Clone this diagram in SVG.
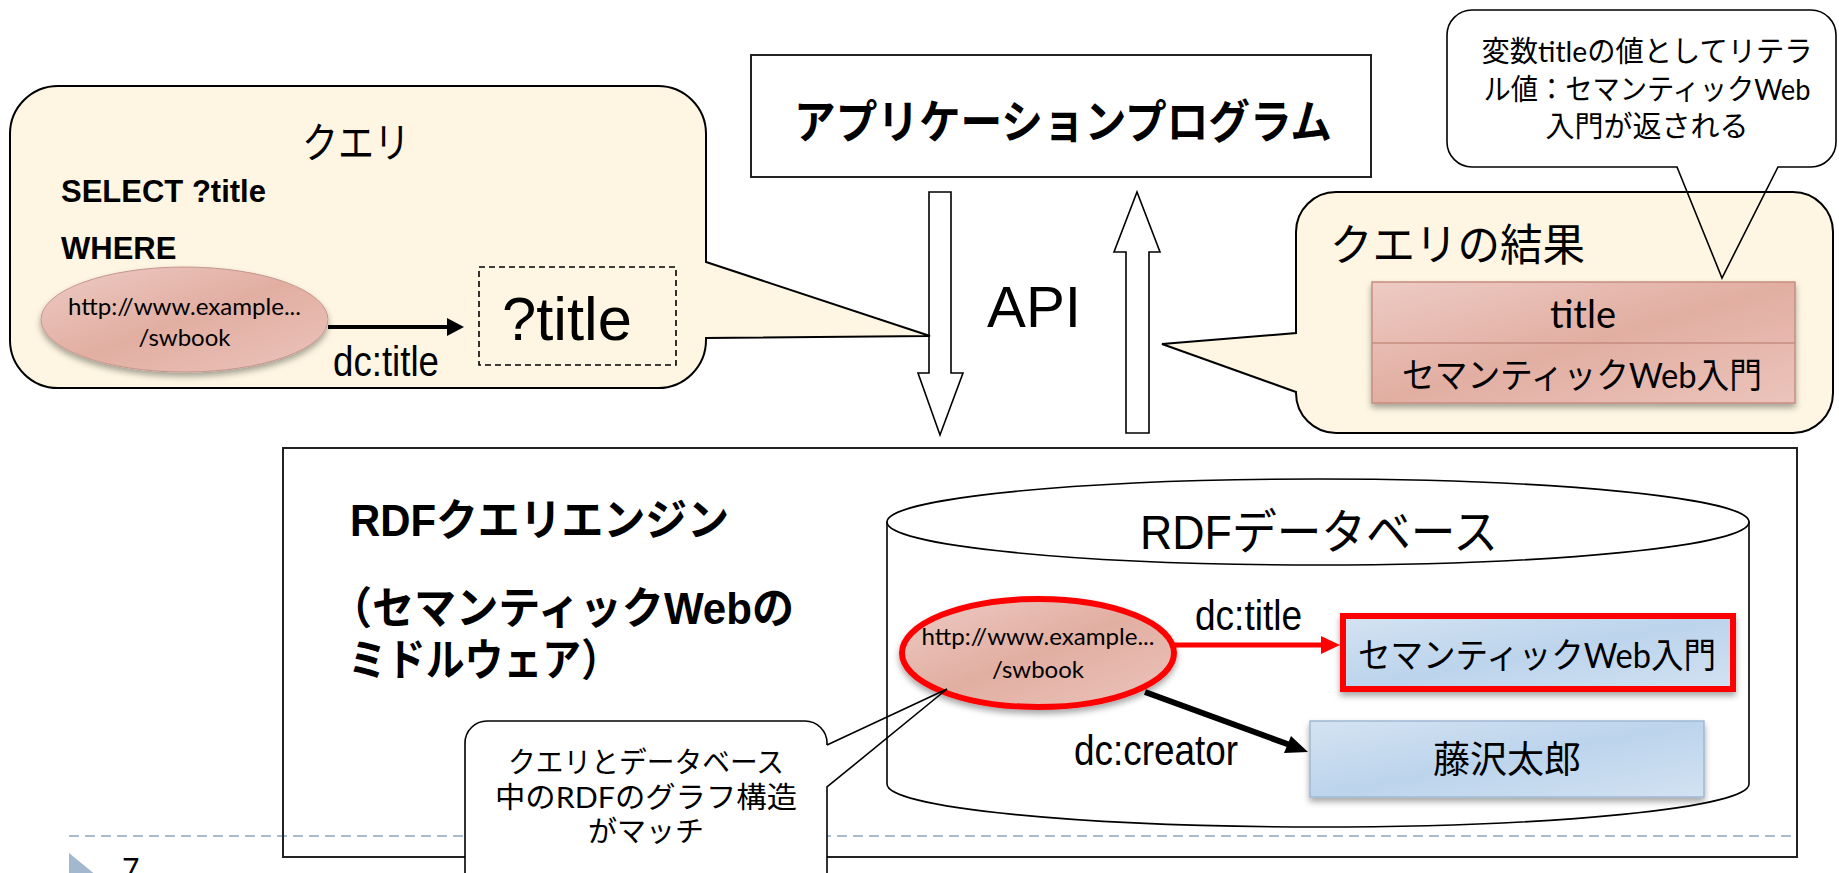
<svg xmlns="http://www.w3.org/2000/svg" width="1839" height="873" viewBox="0 0 1839 873">
  <defs>
    <style>
      .gs { font-family: Lato, "Noto Sans CJK JP", sans-serif; fill: #000; }
      .hv { font-family: "Liberation Sans", "Noto Sans CJK JP", sans-serif; fill: #000; }
      .hvb { font-family: "Liberation Sans", "Noto Sans CJK JP", sans-serif; font-weight: bold; fill: #000; }
      .bubble { fill: #fef6e2; stroke: #000; stroke-width: 2; }
      .line { fill: none; stroke: #000; stroke-width: 1.6; }
      .box { fill: #fff; stroke: #222; stroke-width: 2; }
      .blockarrow { fill: #fff; stroke: #000; stroke-width: 1.6; }
    </style>
    <linearGradient id="pink" x1="0" y1="0" x2="1" y2="1">
      <stop offset="0" stop-color="#edcbc4"/>
      <stop offset="0.5" stop-color="#e2aea2"/>
      <stop offset="1" stop-color="#ebc4bb"/>
    </linearGradient>
    <linearGradient id="blue" x1="0" y1="0" x2="1" y2="1">
      <stop offset="0" stop-color="#d4e3f2"/>
      <stop offset="0.5" stop-color="#bcd4ec"/>
      <stop offset="1" stop-color="#d2e2f2"/>
    </linearGradient>
    <filter id="shadow" x="-10%" y="-10%" width="120%" height="130%">
      <feDropShadow dx="0" dy="4" stdDeviation="3" flood-color="#000" flood-opacity="0.35"/>
    </filter>
  </defs>

  <!-- slide footer -->
  <g id="footer">
    <line x1="69" y1="836" x2="1797" y2="836" stroke="#a7bcd3" stroke-width="2" stroke-dasharray="10 6"/>
    <polygon points="69,853 108,885 69,917" fill="#a3b8cf"/>
    <text class="gs" x="122" y="880" font-size="30">7</text>
  </g>

  <!-- API block arrows -->
  <g id="connectors">
    <polygon class="blockarrow" points="929,192 951,192 951,373 963,373 940,435 918,373 929,373"/>
    <polygon class="blockarrow" points="1126,433 1149,433 1149,252 1160,252 1137,192 1114,252 1126,252"/>
    <text class="hv" x="987" y="327" font-size="58" textLength="94" lengthAdjust="spacingAndGlyphs">API</text>
  </g>

  <!-- application program -->
  <g id="app">
    <rect class="box" x="751" y="55" width="620" height="122"/>
    <text class="hvb" x="794" y="138" font-size="46" textLength="538" lengthAdjust="spacingAndGlyphs">アプリケーションプログラム</text>
  </g>

  <!-- query bubble -->
  <g id="query">
    <path class="bubble" d="M58,86 H658 A48,48 0 0 1 706,134 V262 L930,336 L706,338 V340 A48,48 0 0 1 658,388 H58 A48,48 0 0 1 10,340 V134 A48,48 0 0 1 58,86 Z"/>
    <text class="gs" x="302" y="158" font-size="42" textLength="108" lengthAdjust="spacingAndGlyphs">クエリ</text>
    <text class="hvb" x="61" y="202" font-size="31">SELECT ?title</text>
    <text class="hvb" x="61" y="259" font-size="31">WHERE</text>
    <ellipse cx="184.5" cy="319.5" rx="143.5" ry="52.5" fill="url(#pink)" stroke="#c4968c" stroke-width="1" filter="url(#shadow)"/>
    <text class="gs" x="184.5" y="315" font-size="23" text-anchor="middle" textLength="233" lengthAdjust="spacingAndGlyphs">http://www.example...</text>
    <text class="gs" x="184.5" y="346" font-size="24" text-anchor="middle">/swbook</text>
    <line x1="328" y1="327" x2="449" y2="327" stroke="#000" stroke-width="4"/>
    <polygon points="447,318 464,327 447,336" fill="#000"/>
    <text class="hv" x="333" y="376" font-size="42" textLength="106" lengthAdjust="spacingAndGlyphs">dc:title</text>
    <rect x="479" y="267" width="197" height="98" fill="none" stroke="#000" stroke-width="1.6" stroke-dasharray="6 4"/>
    <text class="hv" x="502" y="340" font-size="61" textLength="130" lengthAdjust="spacingAndGlyphs">?title</text>
  </g>

  <!-- query result bubble -->
  <g id="result">
    <path class="bubble" d="M1336,192 H1793 A40,40 0 0 1 1833,232 V393 A40,40 0 0 1 1793,433 H1336 A40,40 0 0 1 1296,393 V392 L1162,344 L1296,333 V232 A40,40 0 0 1 1336,192 Z"/>
    <text class="gs" x="1330" y="261" font-size="44" textLength="255" lengthAdjust="spacingAndGlyphs">クエリの結果</text>
    <g filter="url(#shadow)">
      <rect x="1372" y="282" width="423" height="121" fill="url(#pink)" stroke="#c68d80" stroke-width="1.5"/>
    </g>
    <line x1="1372" y1="343" x2="1795" y2="343" stroke="#c68d80" stroke-width="1.5"/>
    <text class="gs" x="1583" y="328" font-size="38" text-anchor="middle">title</text>
    <text class="gs" x="1402" y="388" font-size="35" textLength="360" lengthAdjust="spacingAndGlyphs">セマンティックWeb入門</text>
  </g>

  <!-- note on the returned value -->
  <g id="note-result">
    <rect x="1447" y="10" width="389" height="157" rx="25" ry="25" fill="#fff"/>
    <path class="line" d="M1778,167 H1811 A25,25 0 0 0 1836,142 V35 A25,25 0 0 0 1811,10 H1472 A25,25 0 0 0 1447,35 V142 A25,25 0 0 0 1472,167 H1677 L1722,278 Z" stroke-linejoin="miter"/>
    <text class="gs" x="1647" y="62" font-size="29" text-anchor="middle" textLength="331" lengthAdjust="spacingAndGlyphs">変数titleの値としてリテラ</text>
    <text class="gs" x="1647" y="100" font-size="29" text-anchor="middle" textLength="327" lengthAdjust="spacingAndGlyphs">ル値：セマンティックWeb</text>
    <text class="gs" x="1647" y="137" font-size="29" text-anchor="middle">入門が返される</text>
  </g>

  <!-- RDF query engine -->
  <g id="engine">
    <rect x="283" y="448" width="1514" height="409" fill="none" stroke="#222" stroke-width="2"/>
    <text class="hvb" x="350" y="536" font-size="44" textLength="379" lengthAdjust="spacingAndGlyphs">RDFクエリエンジン</text>
    <text class="hvb" x="330" y="624" font-size="44" textLength="464" lengthAdjust="spacingAndGlyphs">（セマンティックWebの</text>
    <text class="hvb" x="348" y="676" font-size="44" textLength="272" lengthAdjust="spacingAndGlyphs">ミドルウェア）</text>
  </g>

  <!-- RDF database -->
  <g id="database">
    <path d="M887,522 V784 A431,43 0 0 0 1749,784 V522 Z" fill="#fff" stroke="#000" stroke-width="1.6"/>
    <ellipse cx="1318" cy="522" rx="431" ry="43" fill="#fff" stroke="#000" stroke-width="1.6"/>
    <text class="hv" x="1140" y="549" font-size="48" textLength="358" lengthAdjust="spacingAndGlyphs">RDFデータベース</text>
  </g>

  <g id="subject">
    <ellipse cx="1038" cy="653" rx="136" ry="54" fill="url(#pink)" stroke="#f00" stroke-width="6" filter="url(#shadow)"/>
    <text class="gs" x="1038" y="645" font-size="23" text-anchor="middle" textLength="233" lengthAdjust="spacingAndGlyphs">http://www.example...</text>
    <text class="gs" x="1038" y="678" font-size="24" text-anchor="middle">/swbook</text>
  </g>

  <g id="title-literal">
    <rect x="1343" y="616" width="390" height="73" fill="url(#blue)" stroke="#f00" stroke-width="6" filter="url(#shadow)"/>
    <text class="gs" x="1358" y="668" font-size="35" textLength="358" lengthAdjust="spacingAndGlyphs">セマンティックWeb入門</text>
  </g>

  <g id="creator-literal">
    <rect x="1310" y="721" width="394" height="76" fill="url(#blue)" stroke="#9fb8d3" stroke-width="1.5" filter="url(#shadow)"/>
    <text class="gs" x="1507" y="773" font-size="37" text-anchor="middle">藤沢太郎</text>
  </g>

  <g id="edges">
    <line x1="1175" y1="645" x2="1324" y2="645" stroke="#f00" stroke-width="5"/>
    <polygon points="1321,636 1340,645 1321,654" fill="#f00"/>
    <text class="hv" x="1195" y="630" font-size="42" textLength="107" lengthAdjust="spacingAndGlyphs">dc:title</text>
    <line x1="1145" y1="692" x2="1290" y2="745" stroke="#000" stroke-width="6"/>
    <polygon points="1284,753 1308,752 1291,736" fill="#000"/>
    <text class="hv" x="1074" y="765" font-size="42" textLength="164" lengthAdjust="spacingAndGlyphs">dc:creator</text>
  </g>

  <!-- note on graph matching -->
  <g id="note-match">
    <rect x="465" y="721" width="362" height="190" rx="22" ry="22" fill="#fff"/>
    <path class="line" d="M827,745 V743 A22,22 0 0 0 805,721 H487 A22,22 0 0 0 465,743 V900 M827,900 V787 L947,689 L827,745"/>
    <text class="gs" x="646" y="773" font-size="29" text-anchor="middle" textLength="276" lengthAdjust="spacingAndGlyphs">クエリとデータベース</text>
    <text class="gs" x="646" y="808" font-size="29" text-anchor="middle" textLength="302" lengthAdjust="spacingAndGlyphs">中のRDFのグラフ構造</text>
    <text class="gs" x="646" y="842" font-size="29" text-anchor="middle">がマッチ</text>
  </g>
</svg>
